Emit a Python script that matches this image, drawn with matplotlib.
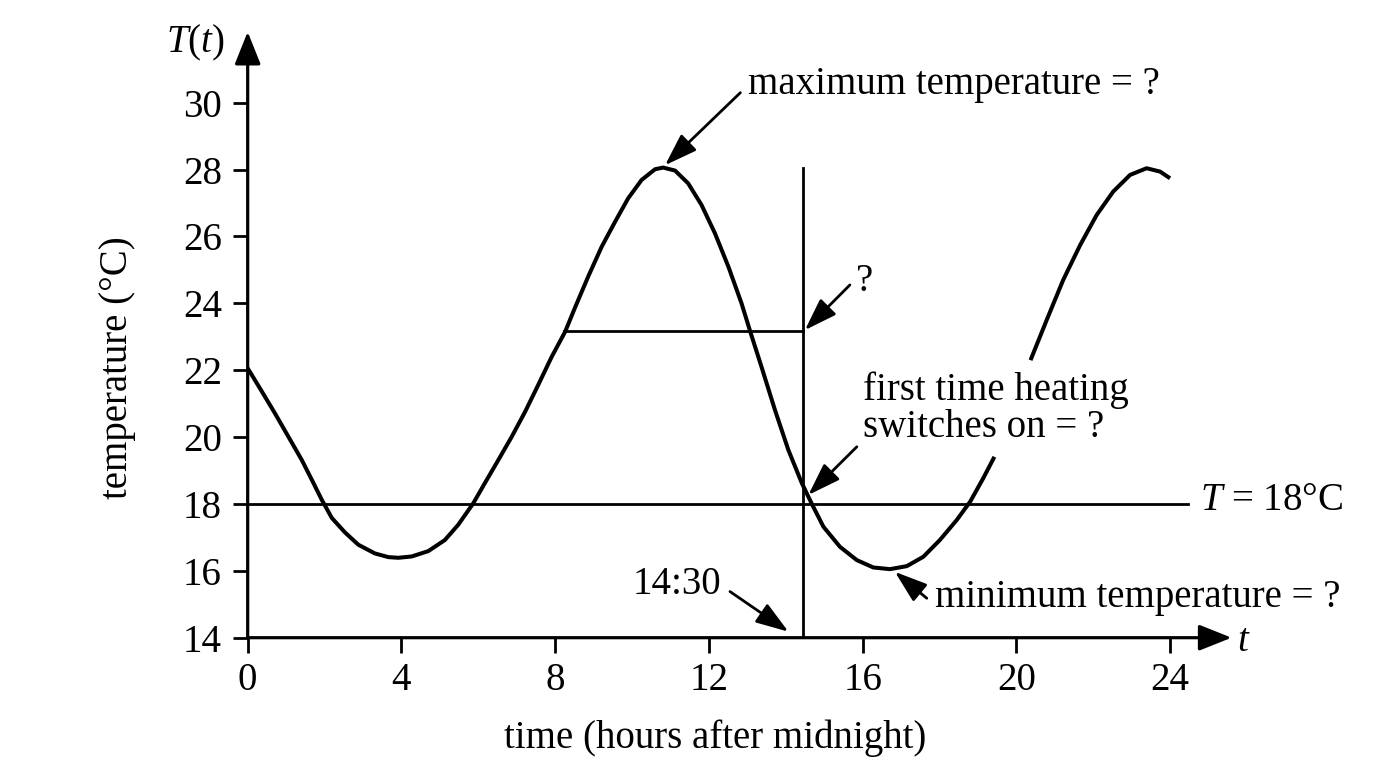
import matplotlib
matplotlib.use("Agg")
import matplotlib.pyplot as plt

plt.rcParams['font.family'] = ['Liberation Serif', 'DejaVu Serif']
plt.rcParams['mathtext.fontset'] = 'custom'
plt.rcParams['mathtext.rm'] = 'Liberation Serif'
plt.rcParams['mathtext.it'] = 'Liberation Serif:italic'

# curve (hours after midnight, temperature)
# first piece runs up to where the label covers it
tempo_1 = [0.00, 0.36, 0.71, 1.06, 1.41, 1.67, 1.93, 2.19, 2.53, 2.88, 3.31, 3.66,
           3.92, 4.27, 4.70, 5.13, 5.48, 5.87, 6.17, 6.52, 6.87, 7.22, 7.56, 7.91,
           8.26, 8.52, 8.86, 9.21, 9.56, 9.90, 10.25, 10.60, 10.81, 11.12, 11.46,
           11.81, 12.16, 12.51, 12.85, 13.07, 13.37, 13.72, 14.07, 14.42, 14.68,
           14.98, 15.41, 15.85, 16.28, 16.71, 17.15, 17.58, 18.01, 18.45, 18.80,
           19.14, 19.43]
temp_1 = [22.06, 21.38, 20.71, 20.01, 19.31, 18.72, 18.12, 17.58, 17.15, 16.78, 16.52, 16.41,
          16.39, 16.43, 16.59, 16.92, 17.38, 18.02, 18.62, 19.31, 20.01, 20.76, 21.56, 22.40,
          23.15, 23.88, 24.80, 25.69, 26.44, 27.14, 27.69, 28.01, 28.06, 27.97, 27.59,
          26.94, 26.09, 25.09, 24.00, 23.18, 22.10, 20.81, 19.61, 18.62, 18.00,
          17.32, 16.72, 16.32, 16.10, 16.05, 16.14, 16.42, 16.92, 17.52, 18.07,
          18.77, 19.41]
# second piece, after the label
tempo_2 = [20.37, 20.79, 21.22, 21.66, 22.09, 22.52, 22.96, 23.39, 23.74, 24.00]
temp_2 = [22.30, 23.50, 24.70, 25.74, 26.64, 27.34, 27.84, 28.04, 27.94, 27.74]

limite = 18           # T = 18 line
hora_marcada = 14.44  # 14:30 vertical line
topo_marcada = 28.04
temp_marcada = 23.18  # horizontal line level
inicio_marcada = 8.24
fim_linha_18 = 24.47

xticks = [0, 4, 8, 12, 16, 20, 24]
yticks = [14, 16, 18, 20, 22, 24, 26, 28, 30]

fig = plt.figure(figsize=(13.76, 7.68), dpi=100)
ax = fig.add_axes([0.18, 0.16966, 0.7178, 0.7924])
ax.set_xlim(0, 25.7)
ax.set_ylim(14, 32.2)
for s in ax.spines.values():
    s.set_visible(False)

ax.set_xticks(xticks)
ax.set_yticks(yticks)
ax.tick_params(direction='out', length=10.5, width=2.0, labelsize=28, pad=7)
ax.tick_params(axis='y', pad=8)

# axes with arrows
eixo = dict(arrowstyle='-|>,head_length=1.0,head_width=0.4', mutation_scale=20,
            lw=2.3, color='black', shrinkA=0, shrinkB=0)
ax.annotate('', xy=(25.6, 14), xytext=(0, 14), arrowprops=eixo, annotation_clip=False)
ax.annotate('', xy=(0, 32.12), xytext=(0, 14), arrowprops=eixo, annotation_clip=False)

ax.plot(tempo_1, temp_1, color='black', lw=2.9, clip_on=False,
        solid_capstyle='butt', solid_joinstyle='round')
ax.plot(tempo_2, temp_2, color='black', lw=2.9, clip_on=False,
        solid_capstyle='butt', solid_joinstyle='round')

ax.plot([0, fim_linha_18], [limite, limite], color='black', lw=2.0)
ax.plot([hora_marcada, hora_marcada], [14, topo_marcada], color='black', lw=2.0)
ax.plot([inicio_marcada, hora_marcada], [temp_marcada, temp_marcada], color='black', lw=2.0)


def seta(cauda, ponta):
    ax.annotate('', xy=ponta, xytext=cauda, annotation_clip=False,
                arrowprops=dict(arrowstyle='-|>,head_length=1.0,head_width=0.34',
                                mutation_scale=20, lw=2.0, color='black',
                                shrinkA=0, shrinkB=0))


fs = 28
ax.text(13.02, 30.53, 'maximum temperature = ?', fontsize=fs, ha='left', va='center')
seta((12.82, 30.3), (10.86, 28.13))

ax.text(16.06, 24.66, '?', fontsize=fs, ha='center', va='center')
seta((15.67, 24.55), (14.50, 23.20))

ax.text(16.02, 20.85, 'first time heating\nswitches on = ?', fontsize=fs, ha='left',
        va='center', linespacing=1.0)
seta((15.85, 19.71), (14.59, 18.27))

ax.text(24.78, 18.1, r'$T$ = 18°C', fontsize=fs, ha='left', va='center')

ax.text(17.88, 15.2, 'minimum temperature = ?', fontsize=fs, ha='left', va='center')
seta((17.67, 15.18), (16.84, 15.97))

ax.text(11.17, 15.6, '14:30', fontsize=fs, ha='center', va='center')
seta((12.55, 15.38), (14.07, 14.18))

ax.text(-1.35, 31.78, r'$T(t)$', fontsize=fs, ha='center', va='center')
ax.text(25.93, 13.9, r'$t$', fontsize=fs, ha='center', va='center')

fig.text(715 / 1376, 1 - 738 / 768, 'time (hours after midnight)', fontsize=fs,
         ha='center', va='center')
fig.text(118 / 1376, 1 - 368 / 768, 'temperature (°C)', fontsize=fs, rotation=90,
         ha='center', va='center')

fig.savefig('out.png', dpi=100)
